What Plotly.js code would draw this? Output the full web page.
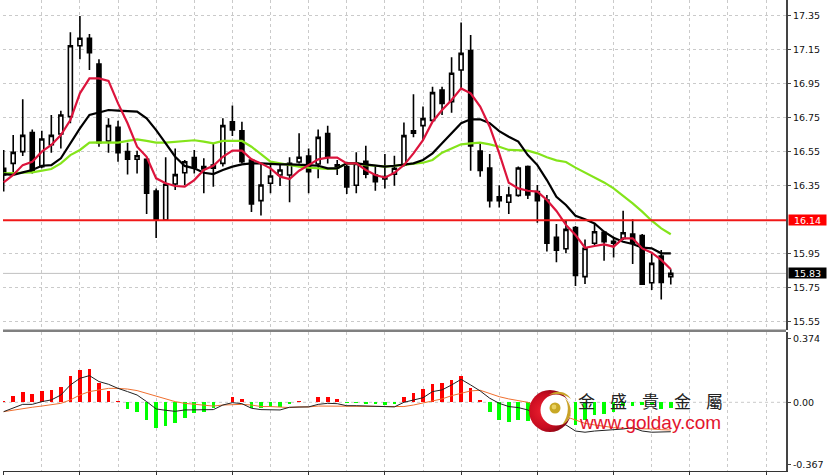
<!DOCTYPE html>
<html><head><meta charset="utf-8">
<script src="https://cdn.plot.ly/plotly-3.0.1.min.js"></script>
<style>html,body{margin:0;padding:0;background:#fff}#c{width:828px;height:475px}</style>
</head><body><div id="c"></div>
<script>
const opens=[16.451,16.480,16.549,16.661,16.461,16.590,16.653,16.755,17.172,17.216,17.065,16.612,16.692,16.549,16.504,16.504,16.317,16.147,16.359,16.425,16.514,16.461,16.470,16.480,16.725,16.672,16.500,16.261,16.363,16.412,16.412,16.488,16.523,16.476,16.655,16.472,16.461,16.351,16.492,16.412,16.402,16.416,16.470,16.657,16.702,16.733,16.912,16.843,17.029,17.143,16.553,16.453,16.284,16.251,16.292,16.461,16.314,16.265,16.045,15.978,16.102,15.814,16.010,16.074,16.021,16.039,16.064,16.055,15.778,15.935,15.814];
const closes=[16.412,16.545,16.645,16.431,16.623,16.645,16.765,17.172,17.216,17.131,16.602,16.702,16.543,16.504,16.525,16.304,16.147,16.357,16.414,16.490,16.457,16.447,16.451,16.702,16.676,16.490,16.241,16.353,16.406,16.441,16.480,16.516,16.431,16.633,16.516,16.461,16.341,16.480,16.416,16.372,16.388,16.451,16.643,16.672,16.743,16.896,16.833,17.010,17.127,16.582,16.439,16.261,16.261,16.294,16.453,16.294,16.261,16.010,15.970,16.092,15.821,15.980,16.078,16.019,16.010,16.072,16.010,15.770,15.892,15.780,15.833];
const highs=[16.559,16.647,16.857,16.680,16.672,16.765,16.790,17.251,17.347,17.241,17.092,16.745,16.731,16.602,16.555,16.510,16.333,16.516,16.568,16.500,16.559,16.510,16.594,16.745,16.821,16.725,16.508,16.480,16.480,16.480,16.516,16.657,16.568,16.680,16.702,16.500,16.490,16.545,16.584,16.470,16.535,16.525,16.721,16.886,16.814,16.931,16.931,17.104,17.308,17.235,16.598,16.535,16.351,16.343,16.461,16.468,16.353,16.294,16.123,16.147,16.112,16.033,16.123,16.078,16.049,16.202,16.151,16.064,15.951,15.970,15.857];
const lows=[16.314,16.421,16.523,16.421,16.451,16.543,16.568,16.716,17.092,17.029,16.578,16.543,16.490,16.414,16.421,16.182,16.041,16.147,16.323,16.353,16.421,16.304,16.343,16.461,16.641,16.480,16.194,16.174,16.304,16.347,16.251,16.480,16.304,16.392,16.480,16.412,16.300,16.304,16.392,16.319,16.333,16.349,16.461,16.633,16.612,16.725,16.765,16.778,16.916,16.437,16.402,16.221,16.221,16.182,16.284,16.270,16.131,15.961,15.898,15.951,15.759,15.770,16.000,15.908,15.927,16.029,15.888,15.770,15.735,15.680,15.768];
const maFast=[16.368,16.412,16.470,16.490,16.549,16.588,16.647,16.735,16.892,16.980,16.980,16.965,16.833,16.716,16.578,16.519,16.392,16.363,16.347,16.343,16.382,16.441,16.466,16.519,16.555,16.555,16.504,16.480,16.451,16.402,16.388,16.437,16.470,16.504,16.514,16.514,16.480,16.480,16.441,16.412,16.396,16.425,16.470,16.539,16.617,16.725,16.794,16.853,16.921,16.892,16.814,16.696,16.539,16.366,16.333,16.319,16.314,16.265,16.200,16.118,16.059,15.984,15.994,16.004,15.990,16.039,16.039,15.980,15.955,15.912,15.857];
const maMid=[16.417,16.412,16.427,16.441,16.466,16.470,16.510,16.598,16.686,16.765,16.778,16.794,16.790,16.788,16.784,16.745,16.676,16.598,16.519,16.465,16.451,16.425,16.417,16.441,16.461,16.474,16.480,16.480,16.476,16.474,16.474,16.474,16.470,16.466,16.451,16.451,16.480,16.480,16.474,16.466,16.461,16.466,16.474,16.480,16.500,16.539,16.598,16.657,16.716,16.739,16.739,16.716,16.670,16.637,16.608,16.529,16.470,16.382,16.284,16.235,16.172,16.151,16.127,16.078,16.043,16.019,16.006,15.984,15.980,15.951,15.951];
const maSlow=[16.421,16.421,16.425,16.427,16.437,16.447,16.480,16.529,16.559,16.602,16.604,16.602,16.602,16.612,16.621,16.612,16.602,16.602,16.608,16.614,16.616,16.608,16.598,16.612,16.614,16.612,16.578,16.535,16.490,16.480,16.470,16.461,16.455,16.451,16.447,16.451,16.480,16.480,16.470,16.466,16.461,16.465,16.470,16.476,16.484,16.500,16.543,16.568,16.592,16.598,16.602,16.592,16.578,16.559,16.555,16.555,16.539,16.516,16.498,16.488,16.455,16.427,16.396,16.368,16.333,16.290,16.245,16.196,16.143,16.098,16.063];
const macdHist=[.008,.035,.059,.049,.067,.071,.092,.155,.192,.198,.112,.067,.006,-.039,-.059,-.104,-.149,-.137,-.124,-.090,-.065,-.059,-.035,.004,.031,.018,-.035,-.031,-.025,-.025,-.010,.006,.002,.029,.029,.018,-.006,-.006,-.008,-.012,-.018,-.008,.031,.055,.076,.106,.112,.133,.155,.084,.012,-.059,-.102,-.114,-.102,-.110,-.104,-.114,-.114,-.114,-.133,-.104,-.075,-.071,-.059,-.020,-.020,-.016,-.016,-.039,-.031];
const macdLine=[-.055,-.035,-.012,-.012,.004,.014,.043,.102,.141,.157,.122,.106,.082,.063,.043,.004,-.039,-.047,-.053,-.045,-.045,-.045,-.043,-.016,-.002,-.008,-.035,-.043,-.045,-.045,-.029,-.027,-.027,-.012,-.006,-.008,-.020,-.020,-.022,-.027,-.027,-.027,0,.014,.027,.063,.073,.102,.135,.102,.067,.024,-.006,-.025,-.031,-.045,-.075,-.104,-.124,-.133,-.169,-.176,-.169,-.165,-.163,-.157,-.149,-.169,-.176,-.176,-.173];
const macdSignal=[-.055,-.045,-.035,-.029,-.022,-.016,-.006,.014,.043,.063,.073,.082,.082,.078,.069,.053,.039,.020,.004,-.006,-.010,-.016,-.022,-.016,-.012,-.012,-.016,-.025,-.025,-.029,-.031,-.027,-.027,-.022,-.022,-.022,-.024,-.024,-.024,-.025,-.025,-.025,-.025,-.016,-.006,.008,.020,.039,.053,.067,.071,.053,.033,.020,.008,0,-.022,-.055,-.075,-.084,-.104,-.124,-.133,-.143,-.149,-.153,-.153,-.157,-.157,-.161,-.163];
const priceTicks=[17.35,17.15,16.95,16.75,16.55,16.35,15.95,15.75,15.55];
const macdTicks=[0.374,0,-0.367];
const macdTickText=['0.374','0.00','-0.367'];
const resistance=16.145, resistanceText='16.14';
const lastPrice=15.833, lastPriceText='15.83';
const brandChars=['金','盛','貴','金','屬'];
const brandUrl='www.golday.com';

const idx=opens.map((_,i)=>i);
const F='"DejaVu Sans",Verdana,sans-serif';
const px=v=>(v-3)/783, py=v=>1-v/471;

const logo='<svg xmlns="http://www.w3.org/2000/svg" viewBox="0 0 43 44"><defs><radialGradient id="g" cx="35%" cy="50%" r="65%"><stop offset="0" stop-color="#ee2030"/><stop offset="0.6" stop-color="#c80c20"/><stop offset="1" stop-color="#7a0410"/></radialGradient></defs><circle cx="21" cy="22" r="21" fill="url(#g)"/><circle cx="27" cy="21" r="15.5" fill="#fff"/><path d="M20 6 C28 0 38 3 42 10 C36 5 28 4 20 6Z" fill="#c9a227"/><path d="M36 9 C45 18 43 31 33 36 C39 28 41 18 36 9Z" fill="#c9a227"/><circle cx="26" cy="19" r="5.5" fill="#c8a825"/><circle cx="25" cy="18" r="2.4" fill="#e8d060"/></svg>';

const traces=[
 {type:'candlestick',x:idx,open:opens,high:highs,low:lows,close:closes,xaxis:'x',yaxis:'y',
  increasing:{line:{color:'#000',width:1.6},fillcolor:'#fff'},
  decreasing:{line:{color:'#000',width:1.6},fillcolor:'#000'},whiskerwidth:0,hoverinfo:'skip',showlegend:false},
 {type:'scatter',mode:'lines',x:idx,y:maSlow,xaxis:'x',yaxis:'y',line:{color:'#84e41a',width:2.2},hoverinfo:'skip'},
 {type:'scatter',mode:'lines',x:idx,y:maMid,xaxis:'x',yaxis:'y',line:{color:'#000',width:2.2},hoverinfo:'skip'},
 {type:'scatter',mode:'lines',x:idx,y:maFast,xaxis:'x',yaxis:'y',line:{color:'#dc143c',width:2.2},hoverinfo:'skip'},
 {type:'bar',x:idx,y:macdHist,xaxis:'x2',yaxis:'y2',width:0.38,
  marker:{color:macdHist.map(v=>v>=0?'#ff0000':'#00ff00'),line:{width:0}},hoverinfo:'skip'},
 {type:'scatter',mode:'lines',x:idx,y:macdSignal,xaxis:'x2',yaxis:'y2',line:{color:'#f07030',width:1},hoverinfo:'skip'},
 {type:'scatter',mode:'lines',x:idx,y:macdLine,xaxis:'x2',yaxis:'y2',line:{color:'#222',width:1},hoverinfo:'skip'}
];

const grid={color:'#cacaca',dash:'3px,3px'};
const xCommon={range:[-0.07,82.09],tick0:0,dtick:8,showticklabels:false,showgrid:true,
  gridcolor:grid.color,griddash:grid.dash,gridwidth:1,zeroline:false,fixedrange:true,
  minor:{tick0:0,dtick:4,showgrid:true,gridcolor:grid.color,griddash:grid.dash,gridwidth:1,ticks:''},
  rangeslider:{visible:false}};

const annotations=[
 {xref:'paper',yref:'y',x:px(788),y:resistance,xanchor:'left',yanchor:'middle',text:resistanceText,showarrow:false,
  bgcolor:'#ff0000',font:{family:F,size:9.5,color:'#fff'},width:37,height:10,borderpad:0,align:'center'},
 {xref:'paper',yref:'y',x:px(788),y:lastPrice,xanchor:'left',yanchor:'middle',text:lastPriceText,showarrow:false,
  bgcolor:'#000',font:{family:F,size:9.5,color:'#fff'},width:37,height:10,borderpad:0,align:'center'},
 {xref:'paper',yref:'paper',x:px(578),y:py(422.5),xanchor:'left',yanchor:'middle',text:brandUrl,showarrow:false,
  font:{family:'"Liberation Sans",Arial,sans-serif',size:19,color:'#e3142e'},borderpad:0}
];
brandChars.forEach((c,k)=>annotations.push({xref:'paper',yref:'paper',x:px(586.7+32*k),y:py(400),xanchor:'center',yanchor:'middle',
  text:c,showarrow:false,font:{family:'"Noto Sans CJK TC",sans-serif',size:17,color:'#222'},borderpad:0}));

const layout={
 width:828,height:475,margin:{l:3,r:42,t:0,b:4,pad:0},paper_bgcolor:'#fff',plot_bgcolor:'rgba(0,0,0,0)',
 showlegend:false,bargap:0,boxgap:0.4,dragmode:false,
 xaxis:Object.assign({},xCommon,{anchor:'y',ticks:'',showline:false}),
 xaxis2:Object.assign({},xCommon,{anchor:'y2',matches:'x',ticks:'outside',ticklen:4,tickcolor:'#333',showline:true,linecolor:'#333',linewidth:1}),
 yaxis:{domain:[1-330/471,1],range:[15.5,17.441],side:'right',anchor:'x',tickvals:priceTicks,ticktext:priceTicks.map(v=>v.toFixed(2)),
  showgrid:true,gridcolor:grid.color,griddash:grid.dash,gridwidth:1,zeroline:false,ticks:'outside',ticklen:3,tickcolor:'#444',
  showline:true,linecolor:'#444',linewidth:2,tickfont:{family:F,size:9.5,color:'#111'},fixedrange:true},
 yaxis2:{domain:[0,1-332/471],range:[-0.404,0.4135],side:'right',anchor:'x2',tickvals:macdTicks,ticktext:macdTickText,
  showgrid:false,zeroline:false,ticks:'outside',ticklen:3,tickcolor:'#444',
  showline:true,linecolor:'#444',linewidth:2,tickfont:{family:F,size:9.5,color:'#111'},fixedrange:true},
 shapes:[
  {type:'line',xref:'paper',yref:'y2',x0:0,x1:1,y0:0,y1:0,line:{color:grid.color,width:1,dash:'3px,3px'},layer:'below'},
  {type:'line',xref:'paper',yref:'y',x0:0,x1:1,y0:lastPrice,y1:lastPrice,line:{color:'#c0c0c0',width:1},layer:'below'},
  {type:'line',xref:'paper',yref:'y',x0:0,x1:1,y0:resistance,y1:resistance,line:{color:'#f01818',width:2},layer:'above'},
  {type:'rect',xref:'paper',yref:'paper',x0:0,x1:1,y0:py(332),y1:py(329.5),fillcolor:'#808080',line:{width:0},layer:'above'}
 ],
 annotations:annotations,
 images:[{source:'data:image/svg+xml;utf8,'+encodeURIComponent(logo),xref:'paper',yref:'paper',x:px(529),y:py(389),sizex:43/783,sizey:44/471,
  xanchor:'left',yanchor:'top',sizing:'stretch',layer:'above'}]
};
Plotly.newPlot('c',traces,layout,{staticPlot:true,displayModeBar:false});
</script></body></html>
